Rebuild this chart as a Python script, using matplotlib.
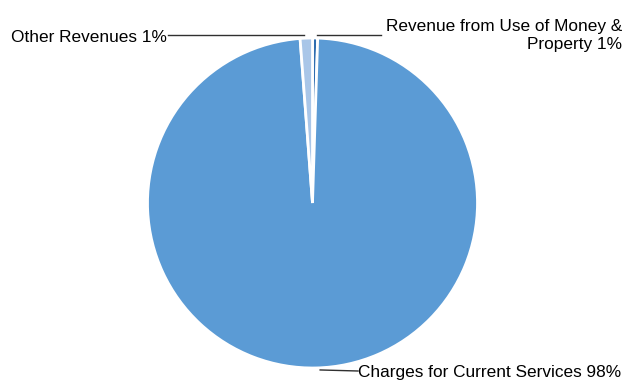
import numpy as np
import matplotlib
matplotlib.use("Agg")
import matplotlib.pyplot as plt

categories = ["Revenue from Use of Money &\nProperty", "Charges for Current Services", "Other Revenues"]
values = [0.5, 98.3, 1.2]
pct_labels = ["1%", "98%", "1%"]
colors = ["#2E6DB0", "#5B9BD5", "#A9C6E8"]

plt.rcParams['font.family'] = ['Liberation Sans', 'DejaVu Sans']
fs = 12.4

fig = plt.figure(figsize=(6.26, 3.83), dpi=100)
ax = fig.add_axes([0, 0, 1, 1])

cx, cy, r = 312.5, 383 - 203, 165
wedges, _ = ax.pie(values, colors=colors, startangle=90, counterclock=False,
                   center=(cx, cy), radius=r,
                   wedgeprops=dict(edgecolor='white', linewidth=2))
ax.set_xlim(0, 626)
ax.set_ylim(0, 383)
ax.set_aspect('equal')
ax.axis('off')

def mid_angle(w):
    return np.deg2rad((w.theta1 + w.theta2) / 2)

line_col = '#303030'

# Revenue from Use of Money & Property
a = mid_angle(wedges[0])
px, py = cx + r * np.cos(a), cy + r * np.sin(a)
ax.plot([px + 2, 381], [383 - 35, 383 - 35], color=line_col, lw=1)
ax.text(622, 383 - 35, categories[0] + " " + pct_labels[0], ha='right', va='center',
        fontsize=fs, multialignment='right', linespacing=1.25)

# Other Revenues
a = mid_angle(wedges[2])
px, py = cx + r * np.cos(a), cy + r * np.sin(a)
ax.plot([168, px - 2], [383 - 35, 383 - 35], color=line_col, lw=1)
ax.text(167, 383 - 38, categories[2] + " " + pct_labels[2], ha='right', va='center', fontsize=fs)

# Charges for Current Services
a = mid_angle(wedges[1])
px, py = cx + r * np.cos(a), cy + r * np.sin(a)
ax.plot([px + 4, 358], [py - 2, 383 - 371], color=line_col, lw=1)
ax.text(358, 383 - 372, categories[1] + " " + pct_labels[1], ha='left', va='center', fontsize=fs)

fig.savefig("out.png", dpi=100)
